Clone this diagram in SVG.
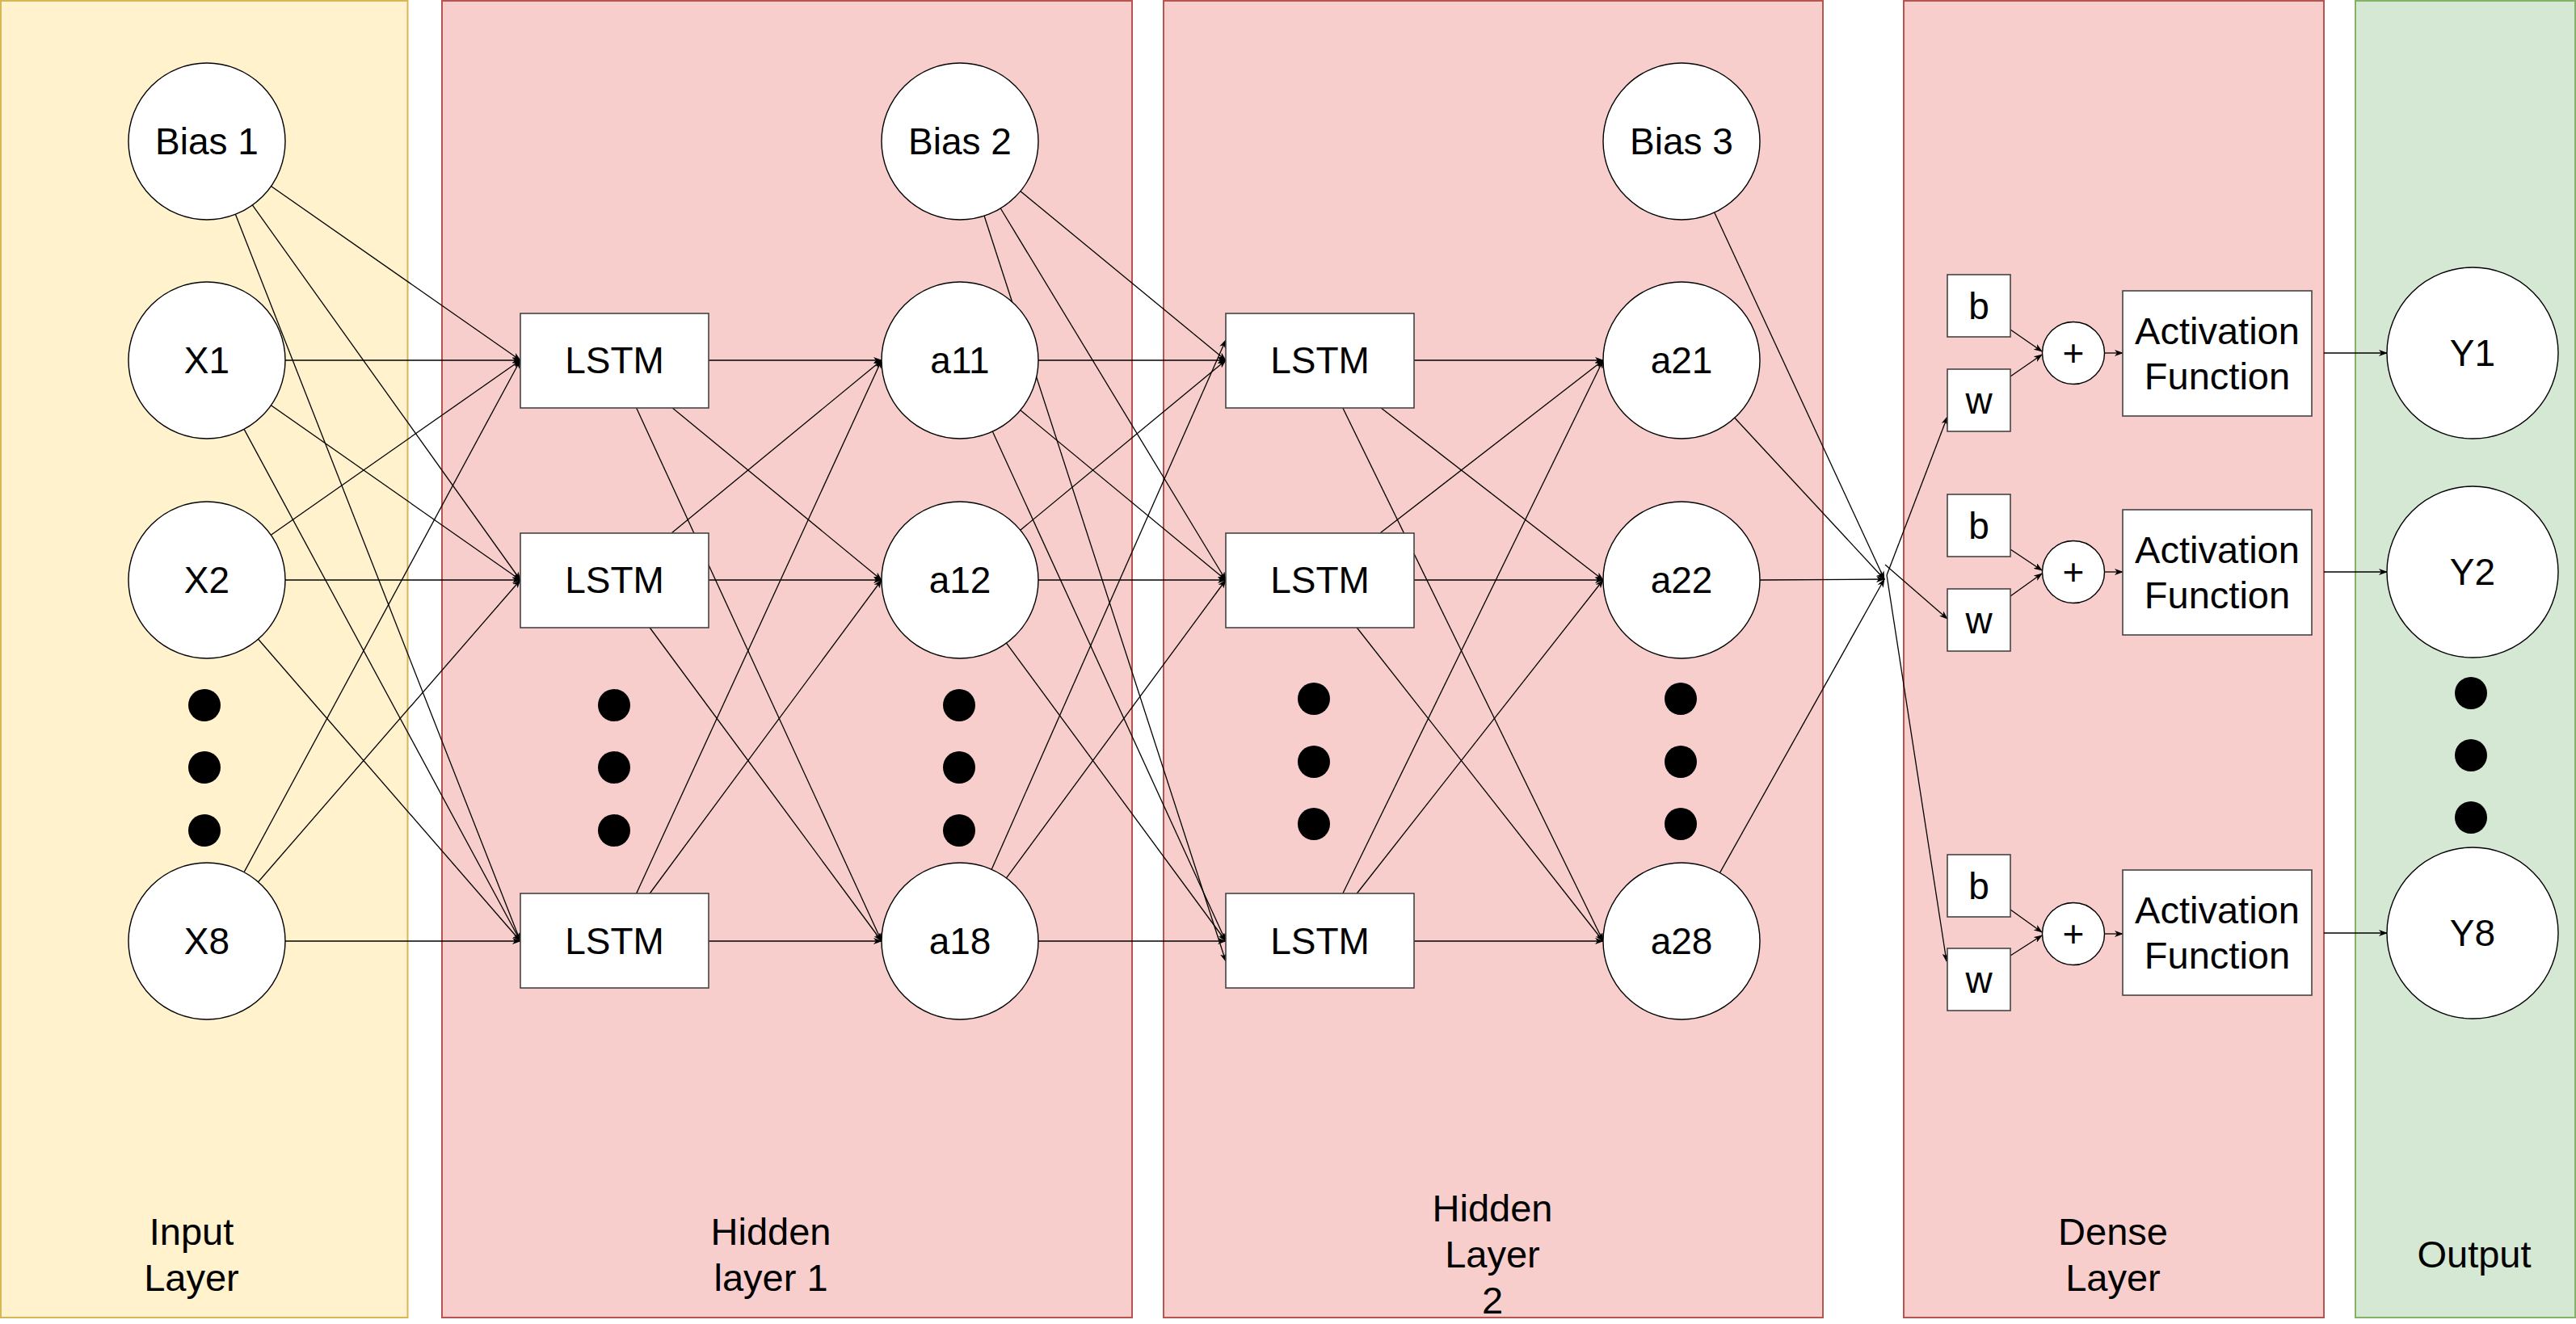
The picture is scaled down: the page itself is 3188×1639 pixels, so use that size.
<svg xmlns="http://www.w3.org/2000/svg" width="3188" height="1639" viewBox="0 0 3188 1639">
<defs>
<marker id="ah" markerWidth="11" markerHeight="8" refX="10" refY="4" orient="auto" markerUnits="userSpaceOnUse">
<path d="M0,0 L11,4 L0,8 L3,4 z" fill="#000"/>
</marker>
<style>
.pin{fill:#fff2cc;stroke:#d6b656;stroke-width:2}
.phid{fill:#f8cecc;stroke:#b85450;stroke-width:2}
.pout{fill:#d5e8d4;stroke:#82b366;stroke-width:2}
.nc{fill:#fff;stroke:#000;stroke-width:1.4}
.nb{fill:#fff;stroke:#444;stroke-width:1.6}
.dot{fill:#000}
.t{font-family:"Liberation Sans",Arial,Helvetica,sans-serif;font-size:46px;fill:#000;text-anchor:middle}
.tl{font-family:"Liberation Sans",Arial,Helvetica,sans-serif;font-size:47px;fill:#000;text-anchor:middle}
.e{stroke:#000;stroke-width:1.3;fill:none;marker-end:url(#ah)}
</style>
</defs>

<g id="panels">
<rect id="panel-input" class="pin" x="1" y="1" width="503.5" height="1630"/>
<rect id="panel-hidden1" class="phid" x="547" y="1" width="854" height="1630"/>
<rect id="panel-hidden2" class="phid" x="1440" y="1" width="816" height="1630"/>
<rect id="panel-dense" class="phid" x="2356" y="1" width="520" height="1630"/>
<rect id="panel-output" class="pout" x="2915" y="1" width="272" height="1630"/>
<text class="tl" x="237" y="1541">Input</text>
<text class="tl" x="237" y="1598">Layer</text>
<text class="tl" x="954" y="1541">Hidden</text>
<text class="tl" x="954" y="1598">layer 1</text>
<text class="tl" x="1847" y="1512">Hidden</text>
<text class="tl" x="1847" y="1569">Layer</text>
<text class="tl" x="1847" y="1626">2</text>
<text class="tl" x="2615" y="1541">Dense</text>
<text class="tl" x="2615" y="1598">Layer</text>
<text class="tl" x="3062" y="1569">Output</text>
</g>

<g id="connectors">
<line class="e" x1="335.5" y1="230.5" x2="644" y2="446"/>
<line class="e" x1="312.4" y1="253.9" x2="644" y2="718"/>
<line class="e" x1="291.4" y1="265.3" x2="644" y2="1165"/>
<line class="e" x1="353" y1="446" x2="644" y2="446"/>
<line class="e" x1="335.4" y1="501.7" x2="644" y2="718"/>
<line class="e" x1="302.1" y1="531.4" x2="644" y2="1165"/>
<line class="e" x1="335.4" y1="662.3" x2="644" y2="446"/>
<line class="e" x1="353" y1="718" x2="644" y2="718"/>
<line class="e" x1="319.6" y1="791.3" x2="644" y2="1165"/>
<line class="e" x1="302.1" y1="1079.6" x2="644" y2="446"/>
<line class="e" x1="319.6" y1="1091.7" x2="644" y2="718"/>
<line class="e" x1="353" y1="1165" x2="644" y2="1165"/>

<line class="e" x1="877" y1="446" x2="1091" y2="446"/>
<line class="e" x1="831.6" y1="504.5" x2="1091" y2="718"/>
<line class="e" x1="787.4" y1="504.5" x2="1091" y2="1165"/>
<line class="e" x1="831.6" y1="659.5" x2="1091" y2="446"/>
<line class="e" x1="877" y1="718" x2="1091" y2="718"/>
<line class="e" x1="803.8" y1="776.5" x2="1091" y2="1165"/>
<line class="e" x1="787.4" y1="1106.5" x2="1091" y2="446"/>
<line class="e" x1="803.8" y1="1106.5" x2="1091" y2="718"/>
<line class="e" x1="877" y1="1165" x2="1091" y2="1165"/>

<line class="e" x1="1262.9" y1="236.7" x2="1517" y2="446"/>
<line class="e" x1="1238.3" y1="258" x2="1517" y2="718"/>
<line class="e" x1="1218" y1="267" x2="1517" y2="1190"/>

<line class="e" x1="1285" y1="446" x2="1517" y2="446"/>
<line class="e" x1="1262.8" y1="507.8" x2="1517" y2="718"/>
<line class="e" x1="1228.4" y1="534.2" x2="1517" y2="1165"/>
<line class="e" x1="1262.8" y1="656.2" x2="1517" y2="446"/>
<line class="e" x1="1285" y1="718" x2="1517" y2="718"/>
<line class="e" x1="1245.5" y1="796.1" x2="1517" y2="1165"/>
<line class="e" x1="1227.2" y1="1076.3" x2="1517" y2="421"/>
<line class="e" x1="1245.5" y1="1086.9" x2="1517" y2="718"/>
<line class="e" x1="1285" y1="1165" x2="1517" y2="1165"/>

<line class="e" x1="1750" y1="446" x2="1984" y2="446"/>
<line class="e" x1="1708.5" y1="504.5" x2="1984" y2="718"/>
<line class="e" x1="1661.6" y1="504.5" x2="1984" y2="1165"/>
<line class="e" x1="1708.5" y1="659.5" x2="1984" y2="446"/>
<line class="e" x1="1750" y1="718" x2="1984" y2="718"/>
<line class="e" x1="1678.9" y1="776.5" x2="1984" y2="1165"/>
<line class="e" x1="1661.6" y1="1106.5" x2="1984" y2="446"/>
<line class="e" x1="1678.9" y1="1106.5" x2="1984" y2="718"/>
<line class="e" x1="1750" y1="1165" x2="1984" y2="1165"/>

<line class="e" x1="2146.8" y1="517.3" x2="2332" y2="717"/>
<line class="e" x1="2178" y1="718" x2="2332" y2="717"/>
<line class="e" x1="2128.5" y1="1080.4" x2="2332" y2="717"/>
<line class="e" x1="2121.7" y1="263" x2="2332" y2="717"/>

<line class="e" x1="2335" y1="712" x2="2410" y2="516"/>
<line class="e" x1="2333" y1="699" x2="2410" y2="766"/>
<line class="e" x1="2335" y1="712" x2="2409" y2="1190"/>

<line class="e" x1="2488" y1="408" x2="2527" y2="435"/>
<line class="e" x1="2488" y1="466" x2="2527" y2="439"/>
<line class="e" x1="2604.5" y1="437" x2="2627" y2="437"/>
<line class="e" x1="2876" y1="437" x2="2954" y2="437"/>

<line class="e" x1="2488" y1="680" x2="2527" y2="706"/>
<line class="e" x1="2488" y1="738" x2="2527" y2="710"/>
<line class="e" x1="2604.5" y1="708" x2="2627" y2="708"/>
<line class="e" x1="2876" y1="708" x2="2954" y2="708"/>

<line class="e" x1="2488" y1="1126" x2="2527" y2="1154"/>
<line class="e" x1="2488" y1="1183" x2="2527" y2="1158"/>
<line class="e" x1="2604.5" y1="1156" x2="2627" y2="1156"/>
<line class="e" x1="2876" y1="1155" x2="2954" y2="1155"/>
</g>

<g id="input-nodes">
<g id="bias1"><circle class="nc" cx="256" cy="175" r="97"/><text class="t" x="256" y="191">Bias 1</text></g>
<g id="x1"><circle class="nc" cx="256" cy="446" r="97"/><text class="t" x="256" y="462">X1</text></g>
<g id="x2"><circle class="nc" cx="256" cy="718" r="97"/><text class="t" x="256" y="734">X2</text></g>
<g id="x-dots"><circle class="dot" cx="253" cy="873" r="20"/><circle class="dot" cx="253" cy="950" r="20"/><circle class="dot" cx="253" cy="1028" r="20"/></g>
<g id="x8"><circle class="nc" cx="256" cy="1165" r="97"/><text class="t" x="256" y="1181">X8</text></g>
</g>

<g id="hidden1-nodes">
<g id="lstm11"><rect class="nb" x="644" y="388" width="233" height="117"/><text class="t" x="760.5" y="462">LSTM</text></g>
<g id="lstm12"><rect class="nb" x="644" y="660" width="233" height="117"/><text class="t" x="760.5" y="734">LSTM</text></g>
<g id="lstm1-dots"><circle class="dot" cx="760" cy="873" r="20"/><circle class="dot" cx="760" cy="950" r="20"/><circle class="dot" cx="760" cy="1028" r="20"/></g>
<g id="lstm18"><rect class="nb" x="644" y="1106" width="233" height="117"/><text class="t" x="760.5" y="1181">LSTM</text></g>
<g id="bias2"><circle class="nc" cx="1188" cy="175" r="97"/><text class="t" x="1188" y="191">Bias 2</text></g>
<g id="a11"><circle class="nc" cx="1188" cy="446" r="97"/><text class="t" x="1188" y="462">a11</text></g>
<g id="a12"><circle class="nc" cx="1188" cy="718" r="97"/><text class="t" x="1188" y="734">a12</text></g>
<g id="a1-dots"><circle class="dot" cx="1187" cy="873" r="20"/><circle class="dot" cx="1187" cy="950" r="20"/><circle class="dot" cx="1187" cy="1028" r="20"/></g>
<g id="a18"><circle class="nc" cx="1188" cy="1165" r="97"/><text class="t" x="1188" y="1181">a18</text></g>
</g>

<g id="hidden2-nodes">
<g id="lstm21"><rect class="nb" x="1517" y="388" width="233" height="117"/><text class="t" x="1633.5" y="462">LSTM</text></g>
<g id="lstm22"><rect class="nb" x="1517" y="660" width="233" height="117"/><text class="t" x="1633.5" y="734">LSTM</text></g>
<g id="lstm2-dots"><circle class="dot" cx="1626" cy="865" r="20"/><circle class="dot" cx="1626" cy="943" r="20"/><circle class="dot" cx="1626" cy="1020" r="20"/></g>
<g id="lstm28"><rect class="nb" x="1517" y="1106" width="233" height="117"/><text class="t" x="1633.5" y="1181">LSTM</text></g>
<g id="bias3"><circle class="nc" cx="2081" cy="175" r="97"/><text class="t" x="2081" y="191">Bias 3</text></g>
<g id="a21"><circle class="nc" cx="2081" cy="446" r="97"/><text class="t" x="2081" y="462">a21</text></g>
<g id="a22"><circle class="nc" cx="2081" cy="718" r="97"/><text class="t" x="2081" y="734">a22</text></g>
<g id="a2-dots"><circle class="dot" cx="2080" cy="865" r="20"/><circle class="dot" cx="2080" cy="943" r="20"/><circle class="dot" cx="2080" cy="1020" r="20"/></g>
<g id="a28"><circle class="nc" cx="2081" cy="1165" r="97"/><text class="t" x="2081" y="1181">a28</text></g>
</g>

<g id="dense-nodes">
<g id="b1"><rect class="nb" x="2410" y="340" width="78" height="77"/><text class="t" x="2449" y="395">b</text></g>
<g id="w1"><rect class="nb" x="2410" y="457" width="78" height="77"/><text class="t" x="2449" y="512">w</text></g>
<g id="sum1"><circle class="nc" cx="2566" cy="437" r="38.5"/><text class="t" x="2566" y="453">+</text></g>
<g id="act1"><rect class="nb" x="2627" y="360" width="234" height="155"/><text class="tl" x="2744" y="426">Activation</text><text class="tl" x="2744" y="482">Function</text></g>

<g id="b2"><rect class="nb" x="2410" y="612" width="78" height="77"/><text class="t" x="2449" y="667">b</text></g>
<g id="w2"><rect class="nb" x="2410" y="729" width="78" height="77"/><text class="t" x="2449" y="784">w</text></g>
<g id="sum2"><circle class="nc" cx="2566" cy="708" r="38.5"/><text class="t" x="2566" y="724">+</text></g>
<g id="act2"><rect class="nb" x="2627" y="631" width="234" height="155"/><text class="tl" x="2744" y="697">Activation</text><text class="tl" x="2744" y="753">Function</text></g>

<g id="b8"><rect class="nb" x="2410" y="1058" width="78" height="77"/><text class="t" x="2449" y="1113">b</text></g>
<g id="w8"><rect class="nb" x="2410" y="1174" width="78" height="77"/><text class="t" x="2449" y="1229">w</text></g>
<g id="sum8"><circle class="nc" cx="2566" cy="1156" r="38.5"/><text class="t" x="2566" y="1172">+</text></g>
<g id="act8"><rect class="nb" x="2627" y="1077" width="234" height="155"/><text class="tl" x="2744" y="1143">Activation</text><text class="tl" x="2744" y="1199">Function</text></g>
</g>

<g id="output-nodes">
<g id="y1"><circle class="nc" cx="3060" cy="437" r="106"/><text class="t" x="3060" y="453">Y1</text></g>
<g id="y2"><circle class="nc" cx="3060" cy="708" r="106"/><text class="t" x="3060" y="724">Y2</text></g>
<g id="y-dots"><circle class="dot" cx="3058" cy="858" r="20"/><circle class="dot" cx="3058" cy="935" r="20"/><circle class="dot" cx="3058" cy="1012" r="20"/></g>
<g id="y8"><circle class="nc" cx="3060" cy="1155" r="106"/><text class="t" x="3060" y="1171">Y8</text></g>
</g>
</svg>
